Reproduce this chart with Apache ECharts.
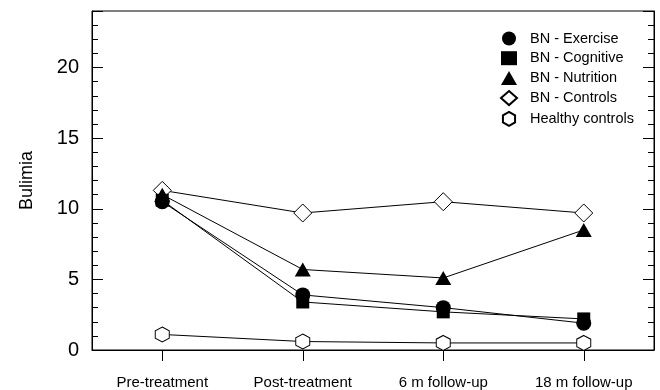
<!DOCTYPE html>
<html>
<head>
<meta charset="utf-8">
<script src="https://cdn.jsdelivr.net/npm/echarts@6/dist/echarts.min.js"></script>
<style>html,body{margin:0;padding:0;background:#fff}#c{width:660px;height:390px}</style>
</head>
<body>
<div id="c"></div>
<script>
var categories = ['Pre-treatment', 'Post-treatment', '6 m follow-up', '18 m follow-up'];
var seriesNames = ['BN - Exercise', 'BN - Cognitive', 'BN - Nutrition', 'BN - Controls', 'Healthy controls'];
var exercise = [10.5, 3.9, 3.0, 1.9];
var cognitive = [10.6, 3.4, 2.7, 2.2];
var nutrition = [11.0, 5.7, 5.1, 8.5];
var bnControls = [11.3, 9.7, 10.5, 9.7];
var healthy = [1.1, 0.6, 0.5, 0.5];
var yTicks = [0, 5, 10, 15, 20];

var FONT = "'Liberation Sans', Arial, sans-serif";
var hexPath = 'path://M0,-1 L0.866,-0.5 L0.866,0.5 L0,1 L-0.866,0.5 L-0.866,-0.5 Z';

function mk(name, data, symbol, size, filled, z) {
  return {
    name: name, type: 'line', data: data, symbol: symbol, symbolSize: size,
    showSymbol: true, z: z, animation: false,
    lineStyle: {color: '#000', width: 1},
    itemStyle: filled ? {color: '#000', borderColor: '#000', borderWidth: 0}
                      : {color: '#fff', borderColor: '#000', borderWidth: 1}
  };
}

var chart = echarts.init(document.getElementById('c'), null, {renderer: 'canvas'});
var yAxisCommon = {
  type: 'value', min: 0, max: 24, interval: 5,
  axisLine: {show: true, lineStyle: {color: '#000', width: 1}},
  axisTick: {show: true, inside: true, length: 11, lineStyle: {color: '#000'}},
  minorTick: {show: true, splitNumber: 5, length: 6, lineStyle: {color: '#000'}},
  splitLine: {show: false}
};
chart.setOption({
  animation: false,
  textStyle: {fontFamily: FONT},
  grid: {left: 92, right: 6, top: 11, bottom: 40, show: true, borderColor: '#000', borderWidth: 1, backgroundColor: 'transparent'},
  legend: {
    orient: 'vertical', left: 495, top: 26, itemWidth: 16, itemHeight: 14, itemGap: 4.7,
    textStyle: {fontSize: 14.5, color: '#000', fontFamily: FONT, padding: [0, 0, 0, 8]},
    data: [
      {name: seriesNames[0], icon: 'circle'},
      {name: seriesNames[1], icon: 'rect'},
      {name: seriesNames[2], icon: 'triangle'},
      {name: seriesNames[3], icon: 'diamond'},
      {name: seriesNames[4], icon: hexPath}
    ]
  },
  xAxis: {
    type: 'category', data: categories, boundaryGap: true,
    axisLine: {show: true, lineStyle: {color: '#000'}},
    axisTick: {show: true, alignWithLabel: true, inside: false, length: 11, lineStyle: {color: '#000'}},
    axisLabel: {fontSize: 15, color: '#000', margin: 25, fontFamily: FONT},
    splitLine: {show: false}
  },
  yAxis: [
    Object.assign({}, yAxisCommon, {
      position: 'left', name: 'Bulimia', nameLocation: 'middle', nameGap: 56,
      nameTextStyle: {fontSize: 18, color: '#000', fontFamily: FONT},
      axisLabel: {fontSize: 20, color: '#000', margin: 13, fontFamily: FONT,
        formatter: function (v) { return yTicks.indexOf(v) >= 0 ? String(v) : ''; }}
    }),
    Object.assign({}, yAxisCommon, {position: 'right', axisLabel: {show: false}})
  ],
  series: [
    mk(seriesNames[4], healthy, hexPath, [14, 15], false, 2),
    mk(seriesNames[3], bnControls, 'diamond', [18, 18], false, 3),
    mk(seriesNames[1], cognitive, 'rect', [13, 13], true, 4),
    mk(seriesNames[0], exercise, 'circle', 15, true, 5),
    mk(seriesNames[2], nutrition, 'triangle', [16, 14], true, 6)
  ]
});
</script>
</body>
</html>
